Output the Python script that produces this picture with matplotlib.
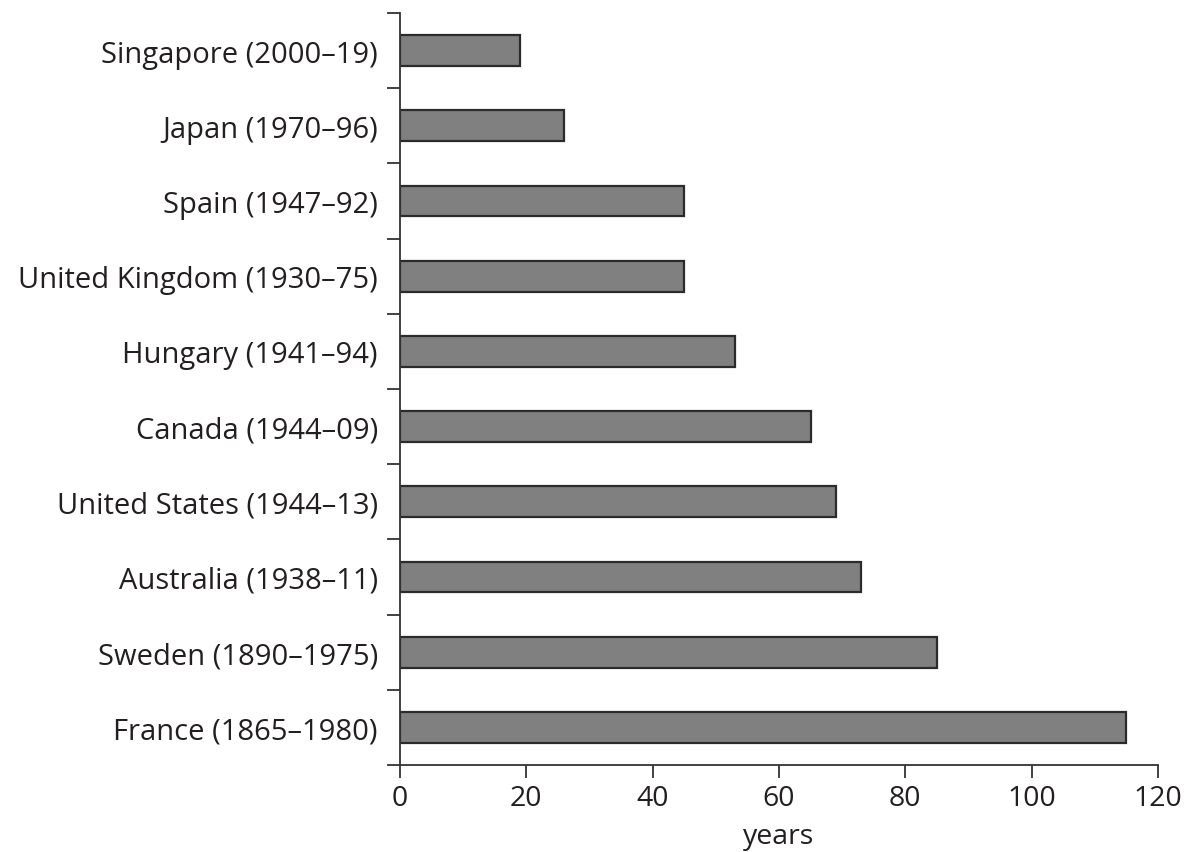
import numpy as np
from matplotlib import pyplot as plt

# countries, top to bottom as in the picture
countries = ['Singapore (2000\u201319)', 'Japan (1970\u201396)', 'Spain (1947\u201392)',
             'United Kingdom (1930\u201375)', 'Hungary (1941\u201394)', 'Canada (1944\u201309)',
             'United States (1944\u201313)', 'Australia (1938\u201311)',
             'Sweden (1890\u20131975)', 'France (1865\u20131980)']
years = [19, 26, 45, 45, 53, 65, 69, 73, 85, 115]
xticks = [0, 20, 40, 60, 80, 100, 120]

plt.rcParams['font.family'] = ['Open Sans', 'DejaVu Sans']
txt_color = '#231f20'

fig = plt.figure(figsize=(11.89, 8.53), dpi=100)
ax = fig.add_axes([0.3364, 0.102, 0.6375, 0.8816])

n = len(countries)
pos = np.arange(n)[::-1]  # first country at the top
ax.barh(pos, years, height=0.41, color='#808080', edgecolor='#2b2b2b', linewidth=1.6)

ax.set_ylim(-0.5, n - 0.5)
ax.set_xlim(0, 120)

# labels in the middle of each slot, ticks on the slot boundaries
ax.set_yticks(pos, countries, fontsize=21, color=txt_color)
ax.tick_params(axis='y', which='major', length=0, pad=16)
ax.set_yticks(np.arange(-0.5, n, 1.0), minor=True)
ax.tick_params(axis='y', which='minor', length=9.5, width=1.3, color='#333333')

ax.set_xticks(xticks)
ax.tick_params(axis='x', length=9, width=1.3, color='#333333', labelsize=20.5,
               labelcolor=txt_color, pad=5)
ax.set_xlabel('years', fontsize=20.5, color=txt_color, labelpad=7)

for s in ['top', 'right']:
    ax.spines[s].set_visible(False)
for s in ['left', 'bottom']:
    ax.spines[s].set_linewidth(1.3)
    ax.spines[s].set_color('#333333')

fig.savefig('out.png', dpi=100)
